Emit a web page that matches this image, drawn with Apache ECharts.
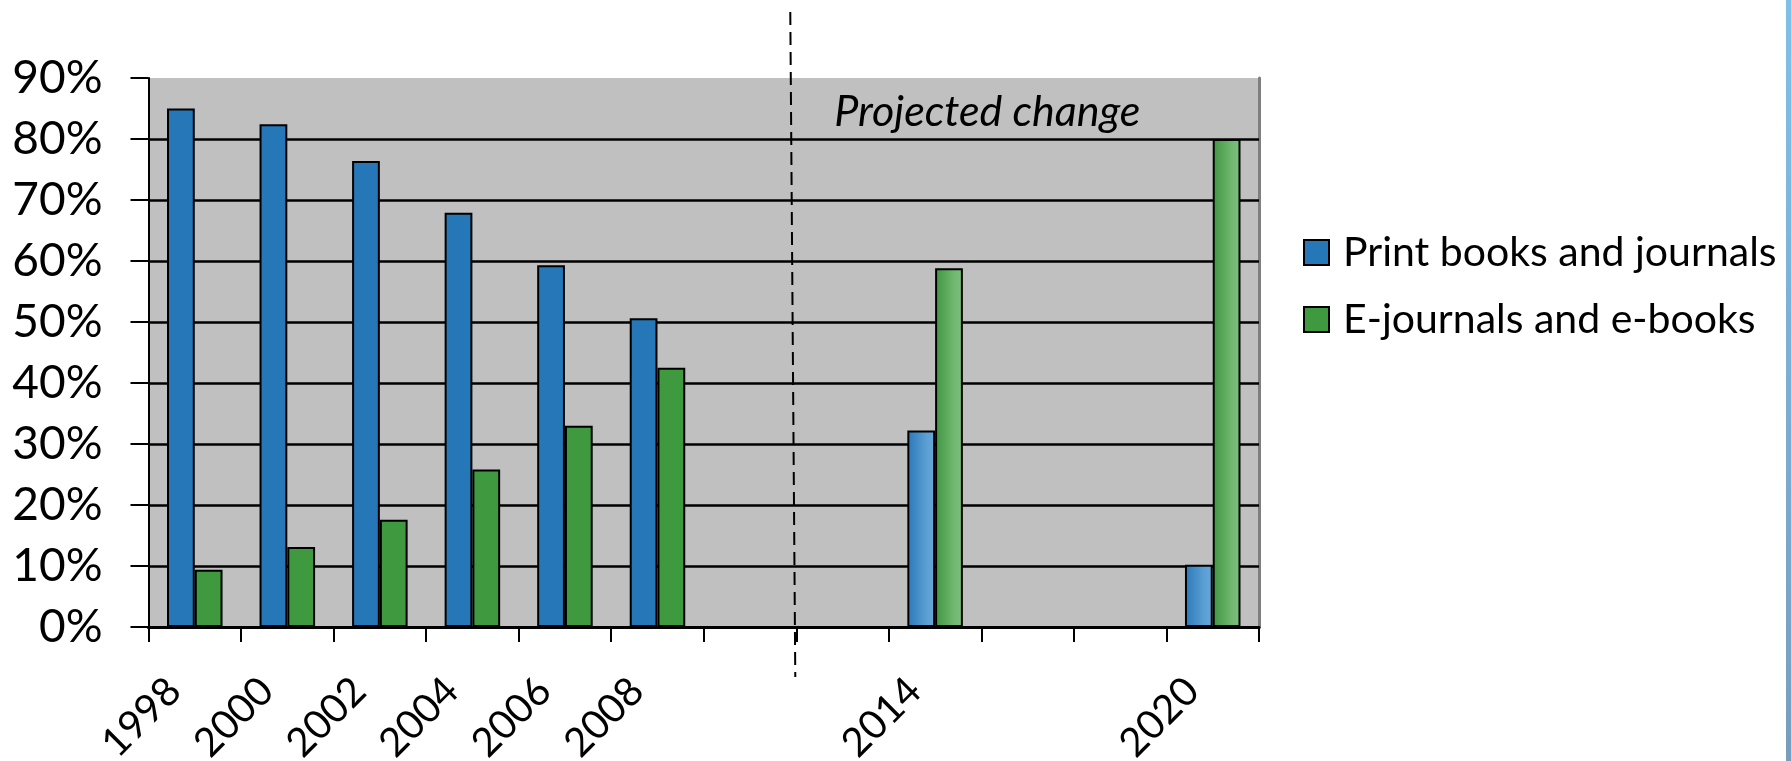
<!DOCTYPE html>
<html>
<head>
<meta charset="utf-8">
<title>Print vs electronic collections</title>
<script src="https://cdn.jsdelivr.net/npm/echarts@6/dist/echarts.min.js"></script>
<style>
  html, body { margin: 0; padding: 0; background: #ffffff; }
  #chart { width: 1791px; height: 761px; }
</style>
</head>
<body>
<div id="chart"></div>
<script>
// Year slots along the x axis; blank slots keep the time spacing between labelled years.
const categories = ['1998', '2000', '2002', '2004', '2006', '2008', '', '', '2014', '', '', '2020'];

// Share of collection spending, in percent.
const printValues = [85, 82.4, 76.4, 67.9, 59.3, 50.6, null, null, 32.2, null, null, 10.2];
const electronicValues = [9.4, 13.1, 17.6, 25.8, 33.0, 42.5, null, null, 58.8, null, null, 80];

// Slots at or after this index are projections (drawn with a shaded fill).
const firstProjectedIndex = 7;

const seriesNames = ['Print books and journals', 'E-journals and e-books'];
const yTicks = [0, 10, 20, 30, 40, 50, 60, 70, 80, 90];
const annotationText = 'Projected change';

const FONT = 'Lato, "Open Sans", sans-serif';
const BLUE = '#2577b8';
const GREEN = '#3f9a3f';

function shade(left, mid, right) {
  return {
    type: 'linear', x: 0, y: 0, x2: 1, y2: 0,
    colorStops: [
      { offset: 0, color: left },
      { offset: 0.7, color: mid },
      { offset: 1, color: right }
    ]
  };
}
const blueShade = shade('#2a78ba', '#5c9fd3', '#66a8da');
const greenShade = shade('#3f963f', '#72b872', '#7cc07c');

function buildData(values, projectedFill) {
  return values.map((v, i) => {
    if (v === null) return null;
    if (i >= firstProjectedIndex) {
      return { value: v, itemStyle: { color: projectedFill } };
    }
    return v;
  });
}

const chart = echarts.init(document.getElementById('chart'), null, { renderer: 'canvas' });

const option = {
  backgroundColor: '#ffffff',
  animation: false,
  textStyle: { fontFamily: FONT, color: '#000' },
  grid: {
    left: 148.5, right: 532, top: 78, bottom: 134,
    containLabel: false,
    outerBoundsMode: 'none',
    show: true, backgroundColor: '#c0c0c0', borderWidth: 0
  },
  legend: {
    orient: 'vertical',
    left: 1298,
    top: 227,
    itemWidth: 25,
    itemHeight: 25,
    itemGap: 26,
    icon: 'rect',
    textStyle: { fontFamily: FONT, fontSize: 41, color: '#000', padding: [0, 0, 0, 9] },
    data: seriesNames
  },
  xAxis: [
    {
      type: 'category',
      data: categories,
      boundaryGap: true,
      axisLine: { show: true, lineStyle: { color: '#000', width: 3 } },
      axisTick: { show: true, interval: 0, length: 15, lineStyle: { color: '#000', width: 2 } },
      axisLabel: {
        interval: 0, rotate: 45, margin: 37,
        padding: [0, 29, 0, 0],
        fontFamily: FONT, fontSize: 40, color: '#000'
      },
      splitLine: { show: false },
      z: 5
    },
    {
      // top edge of the plot frame
      type: 'category',
      data: categories,
      position: 'top',
      axisLine: { show: true, lineStyle: { color: '#7f7f7f', width: 3 } },
      axisTick: { show: false },
      axisLabel: { show: false },
      splitLine: { show: false }
    }
  ],
  yAxis: [
    {
      type: 'value',
      min: yTicks[0],
      max: yTicks[yTicks.length - 1],
      interval: 10,
      axisLine: { show: true, lineStyle: { color: '#000', width: 2 } },
      axisTick: { show: true, length: 18, lineStyle: { color: '#000', width: 2 } },
      axisLabel: {
        margin: 46, fontFamily: FONT, fontSize: 46, color: '#000',
        formatter: '{value}%'
      },
      splitLine: { show: true, showMaxLine: false, lineStyle: { color: '#000', width: 2.5 } },
      z: 4
    },
    {
      // right edge of the plot frame
      type: 'value',
      position: 'right',
      min: yTicks[0],
      max: yTicks[yTicks.length - 1],
      interval: 10,
      axisLine: { show: true, lineStyle: { color: '#7f7f7f', width: 3 } },
      axisTick: { show: false },
      axisLabel: { show: false },
      splitLine: { show: false }
    }
  ],
  series: [
    {
      name: seriesNames[0],
      type: 'bar',
      data: buildData(printValues, blueShade),
      barGap: '0%',
      barCategoryGap: '40%',
      itemStyle: { color: BLUE, borderColor: '#000', borderWidth: 2 },
      z: 6
    },
    {
      name: seriesNames[1],
      type: 'bar',
      data: buildData(electronicValues, greenShade),
      barGap: '0%',
      barCategoryGap: '40%',
      itemStyle: { color: GREEN, borderColor: '#000', borderWidth: 2 },
      z: 6
    }
  ]
};

chart.setOption(option);

// Divider between measured years and projections, plus its caption.
const xBefore = chart.convertToPixel({ xAxisIndex: 0 }, firstProjectedIndex - 1);
const xAfter = chart.convertToPixel({ xAxisIndex: 0 }, firstProjectedIndex);
const dividerX = (xBefore + xAfter) / 2;
const topY = chart.convertToPixel({ yAxisIndex: 0 }, yTicks[yTicks.length - 1]);

chart.setOption({
  graphic: [
    {
      type: 'line',
      z: 100,
      shape: { x1: dividerX - 6, y1: 12, x2: dividerX - 1, y2: 677 },
      style: { stroke: '#000', lineWidth: 2, lineDash: [13, 7] }
    },
    {
      type: 'text',
      z: 100,
      x: dividerX + 38,
      y: topY + 34,
      style: {
        text: annotationText,
        font: 'italic 43px ' + FONT,
        fill: '#000',
        textVerticalAlign: 'middle'
      }
    },
    {
      // slide edge strip
      type: 'rect',
      z: 100,
      shape: { x: 1786, y: 0, width: 5, height: 761 },
      style: {
        fill: {
          type: 'linear', x: 0, y: 0, x2: 0, y2: 1,
          colorStops: [
            { offset: 0, color: '#7fc0e8' },
            { offset: 1, color: '#789dbd' }
          ]
        }
      }
    }
  ]
});
</script>
</body>
</html>
